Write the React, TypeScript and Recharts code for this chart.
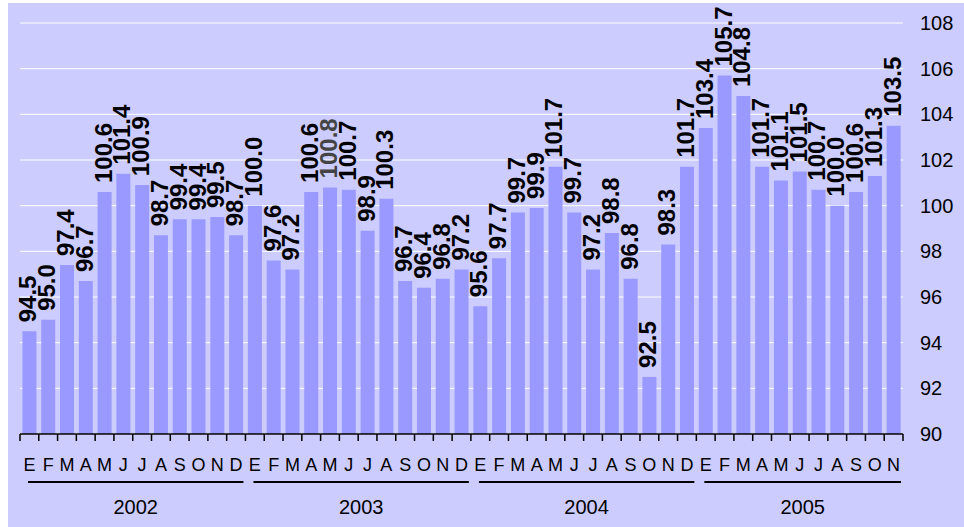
import React from 'react';
import { BarChart, Bar, XAxis, YAxis, CartesianGrid, LabelList } from 'recharts';

const years = ['2002', '2003', '2004', '2005'];
const monthLetters = ['E', 'F', 'M', 'A', 'M', 'J', 'J', 'A', 'S', 'O', 'N', 'D'];
const values2002 = [94.5, 95.0, 97.4, 96.7, 100.6, 101.4, 100.9, 98.7, 99.4, 99.4, 99.5, 98.7];
const values2003 = [100.0, 97.6, 97.2, 100.6, 100.8, 100.7, 98.9, 100.3, 96.7, 96.4, 96.8, 97.2];
const values2004 = [95.6, 97.7, 99.7, 99.9, 101.7, 99.7, 97.2, 98.8, 96.8, 92.5, 98.3, 101.7];
const values2005 = [103.4, 105.7, 104.8, 101.7, 101.1, 101.5, 100.7, 100.0, 100.6, 101.3, 103.5];
const yTicks = [90, 92, 94, 96, 98, 100, 102, 104, 106, 108];
// label drawn in dark grey in the reference (2003, May)
const greyLabels = ['2003-4'];

const seriesByYear = [values2002, values2003, values2004, values2005];

const data = seriesByYear.flatMap((vals, yi) =>
  vals.map((v, mi) => ({
    key: `${years[yi]}-${mi}`,
    year: years[yi],
    month: monthLetters[mi],
    value: v,
    first: mi === 0,
    count: vals.length,
  }))
);

const CHART_W = 956;
const CHART_H = 524;
const MARGIN = { top: 20, right: 0, left: 12, bottom: 0 };
const Y_W = 61;
const X_H = 93;
const PLOT_W = CHART_W - MARGIN.left - MARGIN.right - Y_W;
const BW = PLOT_W / data.length;
const FONT = 'Arial, "Liberation Sans", sans-serif';

const MonthTick = (props: any) => {
  const { x, y, index } = props;
  const d = data[index];
  if (!d) return null;
  const left = x - BW / 2;
  const els: any[] = [];
  els.push(<line key="t" x1={left} x2={left} y1={y} y2={y + 7} stroke="#000" strokeWidth={1.5} />);
  if (index === data.length - 1) {
    els.push(<line key="te" x1={left + BW} x2={left + BW} y1={y} y2={y + 7} stroke="#000" strokeWidth={1.5} />);
  }
  els.push(
    <text key="m" x={x} y={y + 37} textAnchor="middle" fontSize={18} fontFamily={FONT} fill="#000">
      {d.month}
    </text>
  );
  if (d.first) {
    const x1 = left + 8;
    const x2 = left + d.count * BW - 2;
    els.push(<line key="u" x1={x1} x2={x2} y1={y + 48} y2={y + 48} stroke="#000" strokeWidth={2} />);
    els.push(
      <text key="yr" x={(x1 + x2) / 2} y={y + 80} textAnchor="middle" fontSize={20} fontFamily={FONT} fill="#000">
        {d.year}
      </text>
    );
  }
  return <g>{els}</g>;
};

const BarLabel = (props: any) => {
  const { x, y, width, value, index } = props;
  const cx = x + width / 2 - 1.5;
  const cy = y - 9;
  const d = data[index];
  const fill = d && greyLabels.includes(d.key) ? '#444444' : '#000000';
  return (
    <text
      x={cx}
      y={cy}
      transform={`rotate(-90, ${cx}, ${cy})`}
      textAnchor="start"
      dominantBaseline="central"
      fontSize={24}
      fontWeight="bold"
      fontFamily={FONT}
      fill={fill}
    >
      {Number(value).toFixed(1)}
    </text>
  );
};

export default function App() {
  return (
    <div
      style={{
        position: 'absolute',
        left: 8,
        top: 3,
        width: CHART_W,
        height: CHART_H,
        background: '#CCCCFF',
      }}
    >
      <BarChart width={CHART_W} height={CHART_H} data={data} margin={MARGIN} barCategoryGap="13%">
        <CartesianGrid horizontal vertical={false} stroke="#FFFFFF" strokeWidth={1} />
        <XAxis
          dataKey="key"
          interval={0}
          height={X_H}
          tickSize={0}
          tickMargin={0}
          tickLine={false}
          axisLine={{ stroke: '#000', strokeWidth: 1.5 }}
          tick={(p: any) => <MonthTick {...p} />}
        />
        <YAxis
          orientation="right"
          width={Y_W}
          domain={[90, 108]}
          ticks={yTicks}
          allowDataOverflow
          axisLine={false}
          tickLine={false}
          tickMargin={11}
          tick={{ fontSize: 20, fill: '#000', fontFamily: FONT }}
        />
        <Bar dataKey="value" fill="#9999FF" isAnimationActive={false}>
          <LabelList dataKey="value" content={(p: any) => <BarLabel {...p} />} />
        </Bar>
      </BarChart>
    </div>
  );
}
